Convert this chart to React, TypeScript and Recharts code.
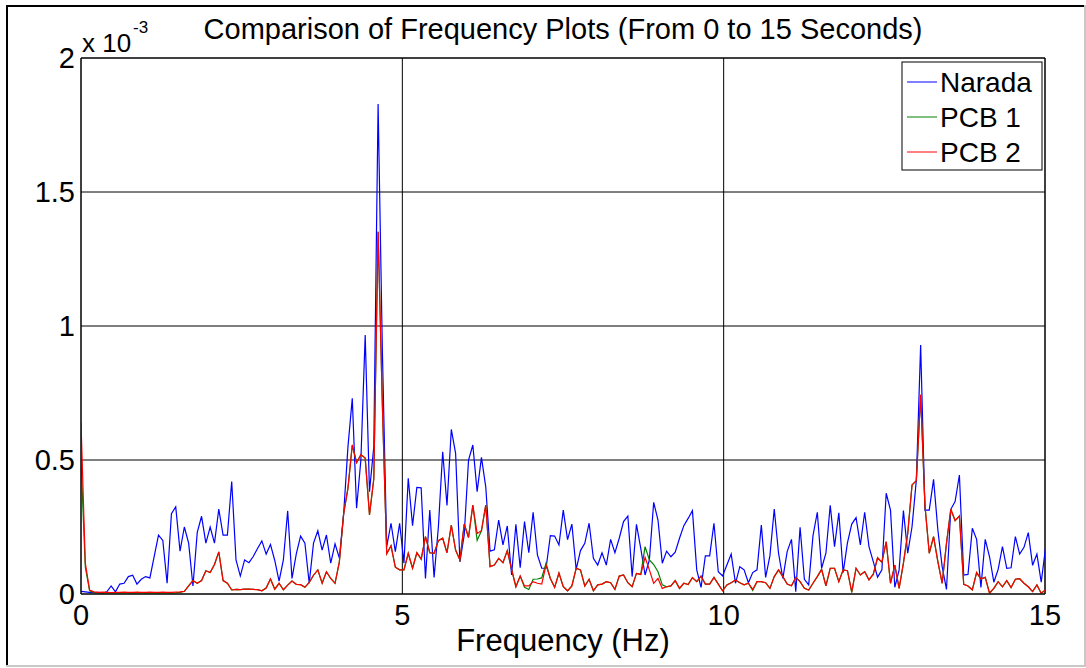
import { CartesianGrid, Line, LineChart, ReferenceLine, XAxis, YAxis } from "recharts";

// FFT bin width (Hz)
const FREQ_STEP = 0.067;

// spectrum magnitudes, x 10^-3
const narada = [
  0.01, 0.008, 0.006, 0.005, 0.006, 0.003, 0.008, 0.03, 0.008, 0.037,
  0.04, 0.065, 0.07, 0.037, 0.055, 0.065, 0.06, 0.14, 0.22, 0.2,
  0.04, 0.3, 0.325, 0.16, 0.25, 0.19, 0.03, 0.23, 0.29, 0.19,
  0.25, 0.19, 0.317, 0.22, 0.22, 0.42, 0.127, 0.067, 0.127, 0.117,
  0.14, 0.17, 0.198, 0.149, 0.185, 0.125, 0.048, 0.127, 0.31, 0.058,
  0.15, 0.216, 0.19, 0.04, 0.19, 0.236, 0.164, 0.22, 0.115, 0.187,
  0.134, 0.3, 0.55, 0.73, 0.32, 0.5, 0.966, 0.382, 0.55, 1.828,
  0.9, 0.177, 0.264, 0.158, 0.264, 0.115, 0.432, 0.255, 0.398, 0.396,
  0.058, 0.313, 0.062, 0.251, 0.531, 0.33, 0.614, 0.525, 0.12, 0.22,
  0.5, 0.556, 0.382, 0.51, 0.4, 0.16, 0.165, 0.276, 0.183, 0.254,
  0.071, 0.26, 0.098, 0.27, 0.154, 0.305, 0.146, 0.096, 0.096, 0.218,
  0.216, 0.183, 0.313, 0.203, 0.261, 0.092, 0.162, 0.189, 0.264, 0.133,
  0.108, 0.154, 0.108, 0.204, 0.154, 0.208, 0.27, 0.291, 0.065, 0.26,
  0.17, 0.071, 0.127, 0.342, 0.276, 0.115, 0.16, 0.139, 0.156, 0.208,
  0.255, 0.282, 0.311, 0.09, 0.025, 0.142, 0.142, 0.264, 0.083, 0.067,
  0.108, 0.149, 0.04, 0.102, 0.09, 0.042, 0.08, 0.09, 0.257, 0.062,
  0.143, 0.317, 0.152, 0.058, 0.158, 0.204, 0.009, 0.249, 0.055, 0.034,
  0.218, 0.305, 0.096, 0.152, 0.331, 0.177, 0.303, 0.08, 0.191, 0.261,
  0.285, 0.183, 0.305, 0.177, 0.121, 0.063, 0.09, 0.376, 0.313, 0.025,
  0.09, 0.311, 0.152, 0.251, 0.425, 0.929, 0.313, 0.313, 0.428, 0.239,
  0.102, 0.017, 0.316, 0.345, 0.444, 0.071, 0.073, 0.245, 0.204, 0.024,
  0.204, 0.139, 0.044, 0.092, 0.177, 0.096, 0.098, 0.214, 0.149, 0.174,
  0.229, 0.107, 0.149, 0.044, 0.171,
];

const pcb1 = [
  0.5, 0.1, 0.012, 0.005, 0.004, 0.004, 0.003, 0.004, 0.004, 0.003,
  0.004, 0.004, 0.003, 0.004, 0.004, 0.003, 0.004, 0.004, 0.003, 0.004,
  0.004, 0.003, 0.004, 0.006, 0.01, 0.03, 0.05, 0.04, 0.05, 0.087,
  0.08, 0.11, 0.157, 0.05, 0.04, 0.015, 0.017, 0.016, 0.018, 0.018,
  0.017, 0.016, 0.012, 0.022, 0.056, 0.018, 0.04, 0.016, 0.033, 0.048,
  0.036, 0.035, 0.025, 0.043, 0.07, 0.09, 0.04, 0.083, 0.058, 0.04,
  0.12, 0.3, 0.395, 0.556, 0.49, 0.52, 0.507, 0.295, 0.43, 1.352,
  0.7, 0.15, 0.18, 0.1, 0.09, 0.09, 0.152, 0.096, 0.154, 0.13,
  0.214, 0.154, 0.152, 0.199, 0.208, 0.154, 0.257, 0.164, 0.127, 0.261,
  0.211, 0.332, 0.2, 0.236, 0.332, 0.102, 0.108, 0.133, 0.117, 0.162,
  0.092, 0.027, 0.067, 0.025, 0.017, 0.055, 0.056, 0.06, 0.115, 0.058,
  0.025, 0.078, 0.027, 0.012, 0.03, 0.096, 0.09, 0.03, 0.055, 0.012,
  0.034, 0.037, 0.046, 0.042, 0.017, 0.067, 0.071, 0.042, 0.027, 0.077,
  0.073, 0.177, 0.127, 0.11, 0.083, 0.034, 0.027, 0.03, 0.05, 0.021,
  0.04, 0.035, 0.061, 0.046, 0.067, 0.037, 0.037, 0.062, 0.037, 0.012,
  0.034, 0.042, 0.052, 0.042, 0.034, 0.04, 0.013, 0.046, 0.046, 0.042,
  0.021, 0.065, 0.09, 0.065, 0.037, 0.031, 0.062, 0.046, 0.021, 0.015,
  0.04, 0.065, 0.092, 0.03, 0.096, 0.096, 0.046, 0.09, 0.087, 0.005,
  0.096, 0.071, 0.083, 0.053, 0.074, 0.135, 0.118, 0.195, 0.04, 0.108,
  0.021, 0.115, 0.226, 0.407, 0.423, 0.743, 0.33, 0.152, 0.214, 0.121,
  0.04, 0.189, 0.316, 0.274, 0.291, 0.036, 0.03, 0.015, 0.08, 0.056,
  0.062, 0.003, 0.021, 0.046, 0.027, 0.05, 0.024, 0.055, 0.057, 0.04,
  0.027, 0.009, 0.034, 0.003, 0.015,
];

const pcb2 = [
  0.64, 0.115, 0.015, 0.008, 0.006, 0.007, 0.006, 0.005, 0.006, 0.006,
  0.007, 0.006, 0.006, 0.007, 0.006, 0.006, 0.007, 0.006, 0.006, 0.007,
  0.006, 0.006, 0.007, 0.008, 0.01, 0.03, 0.05, 0.04, 0.05, 0.087,
  0.08, 0.11, 0.157, 0.05, 0.04, 0.015, 0.017, 0.016, 0.018, 0.018,
  0.017, 0.016, 0.012, 0.022, 0.056, 0.018, 0.04, 0.016, 0.033, 0.048,
  0.036, 0.035, 0.025, 0.043, 0.07, 0.09, 0.04, 0.083, 0.058, 0.04,
  0.12, 0.3, 0.395, 0.556, 0.49, 0.52, 0.507, 0.295, 0.43, 1.352,
  0.7, 0.15, 0.18, 0.1, 0.09, 0.09, 0.152, 0.096, 0.154, 0.13,
  0.214, 0.154, 0.152, 0.199, 0.208, 0.154, 0.257, 0.164, 0.127, 0.261,
  0.211, 0.332, 0.226, 0.236, 0.332, 0.102, 0.108, 0.133, 0.117, 0.162,
  0.092, 0.027, 0.067, 0.03, 0.03, 0.046, 0.04, 0.037, 0.108, 0.058,
  0.025, 0.078, 0.027, 0.012, 0.03, 0.096, 0.09, 0.03, 0.055, 0.012,
  0.034, 0.037, 0.046, 0.042, 0.017, 0.067, 0.071, 0.042, 0.027, 0.077,
  0.073, 0.137, 0.09, 0.04, 0.058, 0.021, 0.027, 0.03, 0.05, 0.021,
  0.04, 0.035, 0.061, 0.046, 0.067, 0.037, 0.037, 0.062, 0.037, 0.012,
  0.034, 0.042, 0.052, 0.042, 0.034, 0.04, 0.017, 0.046, 0.046, 0.042,
  0.021, 0.065, 0.09, 0.065, 0.037, 0.031, 0.062, 0.046, 0.021, 0.015,
  0.04, 0.065, 0.092, 0.03, 0.096, 0.096, 0.046, 0.09, 0.087, 0.009,
  0.096, 0.071, 0.083, 0.053, 0.074, 0.135, 0.118, 0.195, 0.04, 0.108,
  0.021, 0.115, 0.226, 0.407, 0.423, 0.743, 0.33, 0.152, 0.214, 0.121,
  0.04, 0.189, 0.316, 0.274, 0.291, 0.036, 0.03, 0.015, 0.08, 0.056,
  0.062, 0.003, 0.021, 0.046, 0.027, 0.05, 0.024, 0.055, 0.057, 0.04,
  0.027, 0.009, 0.034, 0.003, 0.015,
];

const xTicks = [0, 5, 10, 15];
const yTicks = [0, 0.5, 1, 1.5, 2];

const series = [
  { key: "narada", name: "Narada", color: "#0000ff" },
  { key: "pcb1", name: "PCB 1", color: "#008000" },
  { key: "pcb2", name: "PCB 2", color: "#ff0000" },
];

const data = narada.map((v, i) => ({
  freq: i * FREQ_STEP,
  narada: v,
  pcb1: pcb1[i],
  pcb2: pcb2[i],
}));

const FONT = "'Liberation Sans', Arial, sans-serif";
const tickStyle = { fill: "#000", fontSize: 29, fontFamily: FONT };

export default function App() {
  return (
    <div
      style={{
        position: "absolute",
        left: 0,
        top: 0,
        width: 1086,
        height: 668,
        background: "#fff",
        fontFamily: FONT,
      }}
    >
      <LineChart
        width={1086}
        height={668}
        data={data}
        margin={{ top: 58, right: 41, bottom: 44, left: 21 }}
      >
        <CartesianGrid stroke="#000" strokeWidth={1} />
        <XAxis
          type="number"
          dataKey="freq"
          domain={[0, 15]}
          ticks={xTicks}
          interval={0}
          allowDataOverflow
          height={30}
          tickSize={0}
          tickMargin={10}
          axisLine={{ stroke: "#000", strokeWidth: 1 }}
          tick={tickStyle}
        />
        <YAxis
          type="number"
          domain={[0, 2]}
          ticks={yTicks}
          interval={0}
          allowDataOverflow
          width={60}
          tickSize={0}
          tickMargin={6}
          axisLine={{ stroke: "#000", strokeWidth: 1 }}
          tick={tickStyle}
        />
        <ReferenceLine y={2} stroke="#000" strokeWidth={1} />
        <ReferenceLine x={15} stroke="#000" strokeWidth={1} />
        {series.map((s) => (
          <Line
            key={s.key}
            type="linear"
            dataKey={s.key}
            name={s.name}
            stroke={s.color}
            strokeWidth={1.2}
            dot={false}
            activeDot={false}
            isAnimationActive={false}
          />
        ))}
      </LineChart>

      <svg
        width={1086}
        height={668}
        style={{ position: "absolute", left: 0, top: 0, pointerEvents: "none" }}
      >
        {/* figure frame */}
        <line x1={7} y1={5} x2={7} y2={667} stroke="#000" strokeWidth={2} />
        <line x1={6} y1={6} x2={1086} y2={6} stroke="#000" strokeWidth={2} />
        <line x1={6} y1={666} x2={1086} y2={666} stroke="#c8c8c8" strokeWidth={2} />
        <line x1={1085} y1={5} x2={1085} y2={667} stroke="#c8c8c8" strokeWidth={2} />

        <text x={563} y={39} textAnchor="middle" fontSize={29} fontFamily={FONT} fill="#000">
          Comparison of Frequency Plots (From 0 to 15 Seconds)
        </text>
        <text x={563} y={651} textAnchor="middle" fontSize={31} fontFamily={FONT} fill="#000">
          Frequency (Hz)
        </text>
        <text x={82} y={52} fontSize={26} fontFamily={FONT} fill="#000">
          x 10
        </text>
        <text x={133} y={33} fontSize={17} fontFamily={FONT} fill="#000">
          -3
        </text>

        {/* legend */}
        <rect x={902} y={62} width={140} height={108} fill="#fff" stroke="#000" strokeWidth={1} />
        {series.map((s, i) => {
          const y = 82 + i * 35;
          return (
            <g key={s.key}>
              <line x1={907} y1={y} x2={937} y2={y} stroke={s.color} strokeWidth={1} />
              <text x={940} y={y + 10} fontSize={28} fontFamily={FONT} fill="#000">
                {s.name}
              </text>
            </g>
          );
        })}
      </svg>
    </div>
  );
}
